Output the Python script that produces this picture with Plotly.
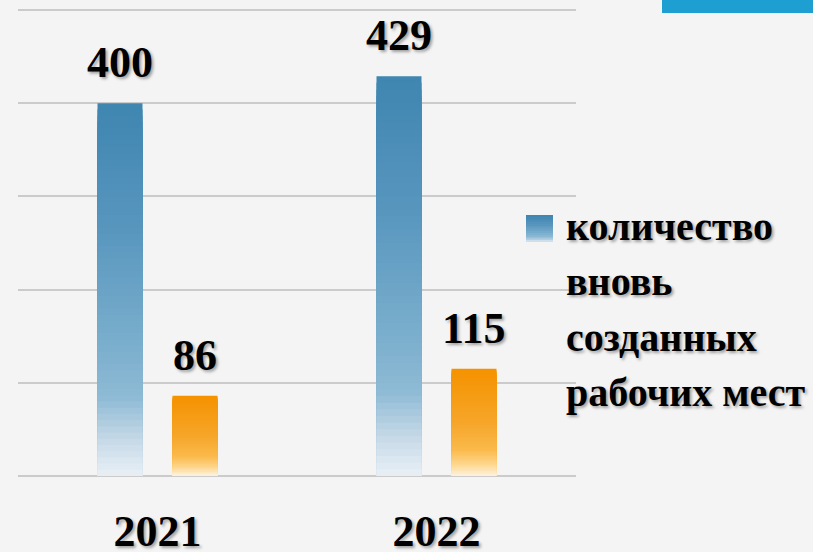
import plotly.graph_objects as go

# ---- data ----
years = ["2021", "2022"]
jobs_created = [400, 429]          # blue series
second_series = [86, 115]          # orange series
legend_lines = ["количество", "вновь", "созданных", "рабочих мест"]

W, H = 813, 552
L, R, T, B = 18, 237, 5, 76
Y_MAX = 505.4
FONT = "Liberation Serif"

blue_stops = [(0.0, (63, 134, 177)), (0.33, (88, 150, 190)), (0.66, (125, 176, 206)),
              (0.78, (142, 186, 213)), (0.9, (200, 218, 232)), (1.0, (236, 242, 247))]
orange_stops = [(0.0, (245, 146, 0)), (0.5, (246, 166, 42)), (0.75, (250, 186, 76)),
                (0.88, (253, 214, 140)), (1.0, (253, 244, 228))]


def col(stops, t):
    for (t0, c0), (t1, c1) in zip(stops, stops[1:]):
        if t <= t1:
            f = (t - t0) / (t1 - t0) if t1 > t0 else 0
            c = [round(a + (b - a) * f) for a, b in zip(c0, c1)]
            return "rgb(%d,%d,%d)" % tuple(c)
    return "rgb(%d,%d,%d)" % stops[-1][1]


N = 60
fig = go.Figure()
for name, vals, stops, grp in [("blue", jobs_created, blue_stops, "a"),
                               ("orange", second_series, orange_stops, "b")]:
    for i in range(N):
        frac = 1 - i / N
        fig.add_trace(go.Bar(
            x=years, y=[v * frac for v in vals], offsetgroup=grp,
            marker=dict(color=col(stops, i / N), line=dict(width=0)),
            showlegend=False, hoverinfo="skip",
        ))

shadow = "2px 2px 3px rgba(0,0,0,0.35)"
# value labels (x given as category index)
for vals, shift in [(jobs_created, -37.5), (second_series, 37.5)]:
    for idx, v in enumerate(vals):
        fig.add_annotation(x=idx, y=v, text=str(v), showarrow=False, xshift=shift,
                           yanchor="bottom", yshift=14,
                           font=dict(family=FONT, size=44, color="#000", weight="bold", shadow=shadow))

# legend (text lines + key)
def px(xp):
    return (xp - L) / (W - L - R)


def py(yp):
    return (H - B - yp) / (H - T - B)


base_y = [241, 296, 352, 407]
for line, by in zip(legend_lines, base_y):
    fig.add_annotation(xref="paper", yref="paper", x=px(564), y=py(by + 10), text=line,
                       showarrow=False, xanchor="left", yanchor="bottom",
                       font=dict(family=FONT, size=40, color="#000", weight="bold", shadow=shadow))

K = 12
for i in range(K):
    y0 = 215 + 27 * i / K
    fig.add_shape(type="rect", xref="paper", yref="paper", x0=px(526), x1=px(553),
                  y0=py(242), y1=py(y0), fillcolor=col(blue_stops, i / K), line=dict(width=0),
                  layer="above")

# top-right decorative band
fig.add_shape(type="rect", xref="paper", yref="paper", x0=px(662), x1=px(813),
              y0=py(13), y1=py(-5), fillcolor="#1d9fd2", line=dict(width=0), layer="above")

fig.update_layout(
    width=W, height=H, autosize=False,
    margin=dict(l=L, r=R, t=T, b=B),
    barmode="group", bargap=0.4624, bargroupgap=0.4,
    paper_bgcolor="#f4f4f4", plot_bgcolor="rgba(0,0,0,0)",
    showlegend=False,
    xaxis=dict(type="category", showgrid=False, showline=False, zeroline=False,
               automargin=False,
               ticks="outside", ticklen=16, tickcolor="rgba(0,0,0,0)",
               tickfont=dict(family=FONT, size=44, color="#000", weight="bold", shadow=shadow)),
    yaxis=dict(range=[0, Y_MAX], tick0=0, dtick=100, showticklabels=False, gridcolor="#cbcbcb",
               gridwidth=1.5, zeroline=True, zerolinecolor="#cbcbcb", zerolinewidth=2,
               showline=False, automargin=False),
)

fig.write_html("out.html", config={"displayModeBar": False},
               post_script="document.body.style.margin='0';document.body.style.overflow='hidden';")
